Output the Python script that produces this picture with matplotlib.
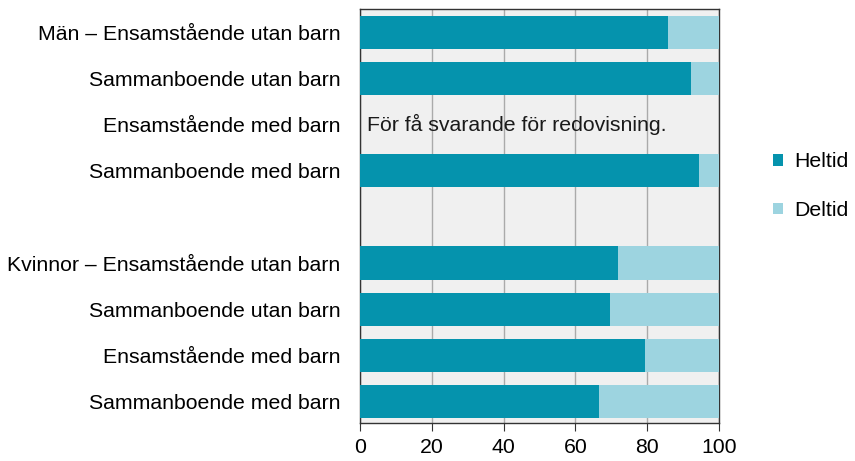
import matplotlib.pyplot as plt

plt.rcParams['font.family'] = ['Liberation Sans', 'DejaVu Sans']

# kategorier (tom rad mellan män och kvinnor)
labels = ['Män – Ensamstående utan barn', 'Sammanboende utan barn',
          'Ensamstående med barn', 'Sammanboende med barn', '',
          'Kvinnor – Ensamstående utan barn', 'Sammanboende utan barn',
          'Ensamstående med barn', 'Sammanboende med barn']
heltid = [85.8, 92.3, None, 94.5, None, 71.9, 69.7, 79.3, 66.6]
ticks = [0, 20, 40, 60, 80, 100]
note = 'För få svarande för redovisning.'

c_hel = '#0593ad'
c_del = '#9dd4e0'
fs = 15.3

fig = plt.figure(figsize=(8.55, 4.61), dpi=100)
ax = fig.add_axes([0.421, 0.0824, 0.42, 0.898])
ax.set_facecolor('#f0f0f0')

pos = [i for i, v in enumerate(heltid) if v is not None]
hel = [heltid[i] for i in pos]
dl = [100 - v for v in hel]
ax.barh(pos, hel, height=0.72, color=c_hel, label='Heltid', zorder=3)
ax.barh(pos, dl, left=hel, height=0.72, color=c_del, label='Deltid', zorder=3)

ax.text(2, 2, note, va='center', ha='left', fontsize=fs, color='#1a1a1a', zorder=4)

ax.set_xlim(0, 100)
ax.set_ylim(8.47, -0.51)
ax.set_xticks(ticks)
ax.set_xticklabels([str(t) for t in ticks], fontsize=fs)
ax.set_yticks(range(len(labels)))
ax.set_yticklabels(labels, fontsize=fs)
ax.tick_params(axis='y', length=0, pad=14)
ax.tick_params(axis='x', length=6, direction='out', color='#333333', pad=5)
ax.xaxis.grid(True, color='#aaaaaa', linewidth=1, zorder=1)
ax.set_axisbelow(True)
for s in ax.spines.values():
    s.set_color('#333333')
    s.set_linewidth(1)

ax.legend(loc='center left', bbox_to_anchor=(1.15, 0.572), frameon=False,
          fontsize=fs, handlelength=0.47, handleheight=0.47, handletextpad=0.52,
          labelspacing=1.39, borderaxespad=0, borderpad=0)

fig.savefig('out.png', dpi=100)
